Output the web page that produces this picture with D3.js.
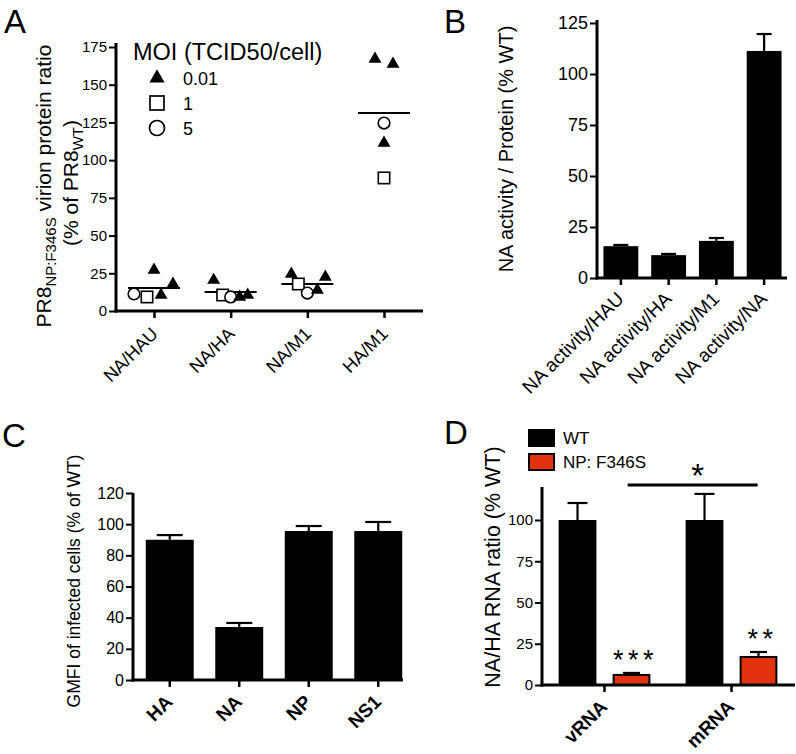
<!DOCTYPE html>
<html><head><meta charset="utf-8">
<script src="https://cdn.jsdelivr.net/npm/d3@7"></script>
<style>body{margin:0;background:#fff}svg{display:block}text{font-family:"Liberation Sans",Arial,Helvetica,sans-serif;fill:#000}</style>
</head><body>
<svg id="chart" width="796" height="754"></svg>
<script>
// ---------- DATA ----------
// Panel A
const catsA = ["NA/HAU", "NA/HA", "NA/M1", "HA/M1"];
const triA = [[27.2, 10.6, 17.9], [20.5, 9.3, 10.6], [24.5, 13.9, 22.5], [167, 163.7, 111.4]];
const sqA = [9.3, 10.6, 17.9, 88.2];
const circA = [11.3, 9.3, 11.9, 124.6];
const meanA = [15.2, 12.6, 17.9, 131.2];
const ticksA = [0, 25, 50, 75, 100, 125, 150, 175];
const legendA = ["0.01", "1", "5"];
// Panel B
const catsB = ["NA activity/HAU", "NA activity/HA", "NA activity/M1", "NA activity/NA"];
const valsB = [15.6, 11.2, 18.2, 111.3];
const errB = [0.6, 0.6, 1.4, 8.3];
const ticksB = [0, 25, 50, 75, 100, 125];
// Panel C
const catsC = ["HA", "NA", "NP", "NS1"];
const valsC = [90, 34, 95.6, 95.6];
const errC = [3, 2.6, 3.2, 5.8];
const ticksC = [0, 20, 40, 60, 80, 100, 120];
// Panel D
const catsD = ["vRNA", "mRNA"];
const seriesD = ["WT", "NP: F346S"];
const wtD = [100, 100];
const wtErrD = [10.3, 15.8];
const mutD = [6.7, 17.6];
const mutErrD = [0.6, 2.4];
const starsD = ["***", "**"];
const ticksD = [0, 25, 50, 75, 100];

// ---------- DRAWING ----------
const svg = d3.select("#chart");
const RED = "#e2320e";

function panelLabel(t, x, y) {
  svg.append("text").attr("x", x).attr("y", y).attr("font-size", 33).text(t);
}
function yAxis(scale, x, ticks, fs, top) {
  const g = svg.append("g").attr("transform", `translate(${x},0)`)
    .call(d3.axisLeft(scale).tickValues(ticks).tickSize(7).tickPadding(2).tickSizeOuter(0));
  g.select(".domain").remove();
  g.selectAll(".tick line").attr("stroke", "#000").attr("stroke-width", 2);
  g.selectAll(".tick text").attr("font-size", fs).attr("font-family", '"Liberation Sans",Arial,sans-serif').attr("fill", "#000");
  svg.append("line").attr("x1", x).attr("x2", x).attr("y1", scale(0) + 1.5).attr("y2", top)
    .attr("stroke", "#000").attr("stroke-width", 3);
}
function xAxis(scale, y, x1, x2, labels, fs, bold, dx, dy) {
  const g = svg.append("g").attr("transform", `translate(0,${y})`)
    .call(d3.axisBottom(scale).tickSize(7).tickFormat("").tickSizeOuter(0));
  g.select(".domain").remove();
  g.selectAll(".tick line").attr("stroke", "#000").attr("stroke-width", 2.5);
  svg.append("line").attr("x1", x1).attr("x2", x2).attr("y1", y).attr("y2", y)
    .attr("stroke", "#000").attr("stroke-width", 3);
  const off = scale.bandwidth ? scale.bandwidth() / 2 : 0;
  svg.append("g").selectAll("text").data(labels).join("text")
    .attr("text-anchor", "end")
    .attr("font-size", fs).attr("font-weight", bold ? "bold" : "normal")
    .attr("transform", d => `translate(${scale(d) + off + dx},${y + dy}) rotate(-45)`)
    .text(d => d);
}
function errBars(xs, ys, vals, errs, cap) {
  vals.forEach((v, i) => {
    const x = xs(i);
    svg.append("line").attr("x1", x).attr("x2", x).attr("y1", ys(v)).attr("y2", ys(v + errs[i]))
      .attr("stroke", "#000").attr("stroke-width", 2.2);
    svg.append("line").attr("x1", x - cap / 2).attr("x2", x + cap / 2).attr("y1", ys(v + errs[i])).attr("y2", ys(v + errs[i]))
      .attr("stroke", "#000").attr("stroke-width", 2.2);
  });
}
function yTitle(x, y, fs, parts) {
  const t = svg.append("text").attr("transform", `translate(${x},${y}) rotate(-90)`)
    .attr("text-anchor", "middle").attr("font-size", fs);
  parts.forEach(p => {
    const s = t.append("tspan").text(p.t);
    if (p.sub) s.attr("font-size", p.sub).attr("dy", p.dy);
    else if (p.dy) s.attr("dy", p.dy);
  });
}

// ===== Panel A =====
panelLabel("A", 4, 33);
const yA = d3.scaleLinear().domain([0, 175]).range([311, 47]);
const xA = d3.scalePoint().domain(catsA).range([154, 384]);
yAxis(yA, 116, ticksA, 15, 43);
xAxis(xA, 311, 114.5, 423, catsA, 18, false, 5, 24);
yTitle(51, 186, 21, [{t: "PR8"}, {t: "NP:F346S", sub: 15, dy: 5}, {t: " virion protein ratio", dy: -5}]);
yTitle(78, 183, 21, [{t: "(% of PR8"}, {t: "WT", sub: 15, dy: 5}, {t: ")", dy: -5}]);

const triSym = d3.symbol(d3.symbolTriangle, 72);
const triOff = [[0, 7, 19], [-17, 9, 17], [-16, 10, 18], [-9, 9, 0]];
const sqOff = [-7, -8, -9, 0];
const circOff = [-20, 0, 0, 0];
catsA.forEach((c, i) => {
  const cx = xA(c);
  svg.append("line").attr("x1", cx - 26).attr("x2", cx + 26).attr("y1", yA(meanA[i])).attr("y2", yA(meanA[i]))
    .attr("stroke", "#000").attr("stroke-width", 2);
  svg.append("rect").attr("x", cx + sqOff[i] - 5.7).attr("y", yA(sqA[i]) - 5.7).attr("width", 11.4).attr("height", 11.4)
    .attr("fill", "#fff").attr("stroke", "#000").attr("stroke-width", 1.6);
  svg.append("circle").attr("cx", cx + circOff[i]).attr("cy", yA(circA[i])).attr("r", 5.8)
    .attr("fill", "#fff").attr("stroke", "#000").attr("stroke-width", 1.6);
  triA[i].forEach((v, j) => {
    svg.append("path").attr("d", triSym()).attr("transform", `translate(${cx + triOff[i][j]},${yA(v)})`).attr("fill", "#000");
  });
});
// legend A
svg.append("text").attr("x", 133).attr("y", 60).attr("font-size", 23.5).text("MOI (TCID50/cell)");
const legY = [78, 103, 128];
svg.append("path").attr("d", d3.symbol(d3.symbolTriangle, 100)()).attr("transform", `translate(157,${legY[0]})`);
svg.append("rect").attr("x", 150).attr("y", legY[1] - 7).attr("width", 14).attr("height", 14)
  .attr("fill", "#fff").attr("stroke", "#000").attr("stroke-width", 1.7);
svg.append("circle").attr("cx", 157).attr("cy", legY[2]).attr("r", 7.5)
  .attr("fill", "#fff").attr("stroke", "#000").attr("stroke-width", 1.7);
legendA.forEach((t, i) => svg.append("text").attr("x", 183).attr("y", legY[i] + 7).attr("font-size", 18).text(t));

// ===== Panel B =====
panelLabel("B", 444, 33);
const yB = d3.scaleLinear().domain([0, 125]).range([278, 23]);
const xB = d3.scaleBand().domain(catsB).range([597, 788]).paddingInner(0.27).paddingOuter(0.135);
svg.append("g").selectAll("rect").data(valsB).join("rect")
  .attr("x", (d, i) => xB(catsB[i])).attr("width", xB.bandwidth())
  .attr("y", d => yB(d)).attr("height", d => yB(0) - yB(d)).attr("fill", "#000");
errBars(i => xB(catsB[i]) + xB.bandwidth() / 2, yB, valsB, errB, 15);
yAxis(yB, 597, ticksB, 18, 20);
xAxis(xB, 278, 595.5, 787, catsB, 19, false, 4, 22);
yTitle(513, 149, 20, [{t: "NA activity / Protein (% WT)"}]);

// ===== Panel C =====
panelLabel("C", 2, 447);
const yC = d3.scaleLinear().domain([0, 120]).range([680, 493]);
const xC = d3.scaleBand().domain(catsC).range([135, 413]).paddingInner(0.31).paddingOuter(0.155);
svg.append("g").selectAll("rect").data(valsC).join("rect")
  .attr("x", (d, i) => xC(catsC[i])).attr("width", xC.bandwidth())
  .attr("y", d => yC(d)).attr("height", d => yC(0) - yC(d)).attr("fill", "#000");
errBars(i => xC(catsC[i]) + xC.bandwidth() / 2, yC, valsC, errC, 26);
yAxis(yC, 133, ticksC, 16, 493);
xAxis(xC, 680, 131.5, 403, catsC, 19, true, 4, 23);
yTitle(80, 581, 17.5, [{t: "GMFI of infected cells (% of WT)"}]);

// ===== Panel D =====
panelLabel("D", 444, 444);
const yD = d3.scaleLinear().domain([0, 120]).range([685, 487]);
const xD = d3.scaleBand().domain(catsD).range([541, 795]).paddingInner(0.15).paddingOuter(0.075);
const xDs = d3.scaleBand().domain(seriesD).range([0, xD.bandwidth()]).paddingInner(0.3).paddingOuter(0.15);
const fillD = [ "#000", RED ];
[wtD, mutD].forEach((vals, s) => {
  svg.append("g").selectAll("rect").data(vals).join("rect")
    .attr("x", (d, i) => xD(catsD[i]) + xDs(seriesD[s]) + (s ? 1 : 0)).attr("width", xDs.bandwidth() - (s ? 2 : 0))
    .attr("y", d => yD(d) + (s ? 1 : 0)).attr("height", d => yD(0) - yD(d) - (s ? 1 : 0))
    .attr("fill", fillD[s]).attr("stroke", s ? "#000" : "none").attr("stroke-width", 2);
});
errBars(i => xD(catsD[i]) + xDs("WT") + xDs.bandwidth() / 2, yD, wtD, wtErrD, 20);
errBars(i => xD(catsD[i]) + xDs("NP: F346S") + xDs.bandwidth() / 2, yD, mutD, mutErrD, 17);
starsD.forEach((s, i) => {
  svg.append("text").attr("x", xD(catsD[i]) + xDs("NP: F346S") + xDs.bandwidth() / 2 + 4)
    .attr("y", yD(mutD[i] + mutErrD[i])).attr("dy", -4)
    .attr("text-anchor", "middle").attr("font-size", 27).attr("letter-spacing", 4.5).text(s);
});
// significance
const sigX1 = xD("vRNA") + xDs("NP: F346S") + 15, sigX2 = xD("mRNA") + xDs("WT") + 72;
svg.append("line").attr("x1", sigX1).attr("x2", sigX2).attr("y1", 485).attr("y2", 485).attr("stroke", "#000").attr("stroke-width", 3);
svg.append("text").attr("x", (sigX1 + sigX2) / 2 + 5).attr("y", 487).attr("text-anchor", "middle").attr("font-size", 33).text("*");
yAxis(yD, 542, ticksD, 15, 487);
xAxis(xD, 685, 540.5, 795, catsD, 19, true, 4, 23);
yTitle(500, 567, 21.5, [{t: "NA/HA RNA ratio (% WT)"}]);
// legend D
seriesD.forEach((s, i) => {
  svg.append("rect").attr("x", 529).attr("y", 430 + i * 24).attr("width", 25).attr("height", 16)
    .attr("fill", fillD[i]).attr("stroke", "#000").attr("stroke-width", 2);
  svg.append("text").attr("x", 563).attr("y", 444 + i * 24).attr("font-size", 17).text(s);
});
</script>
</body></html>
